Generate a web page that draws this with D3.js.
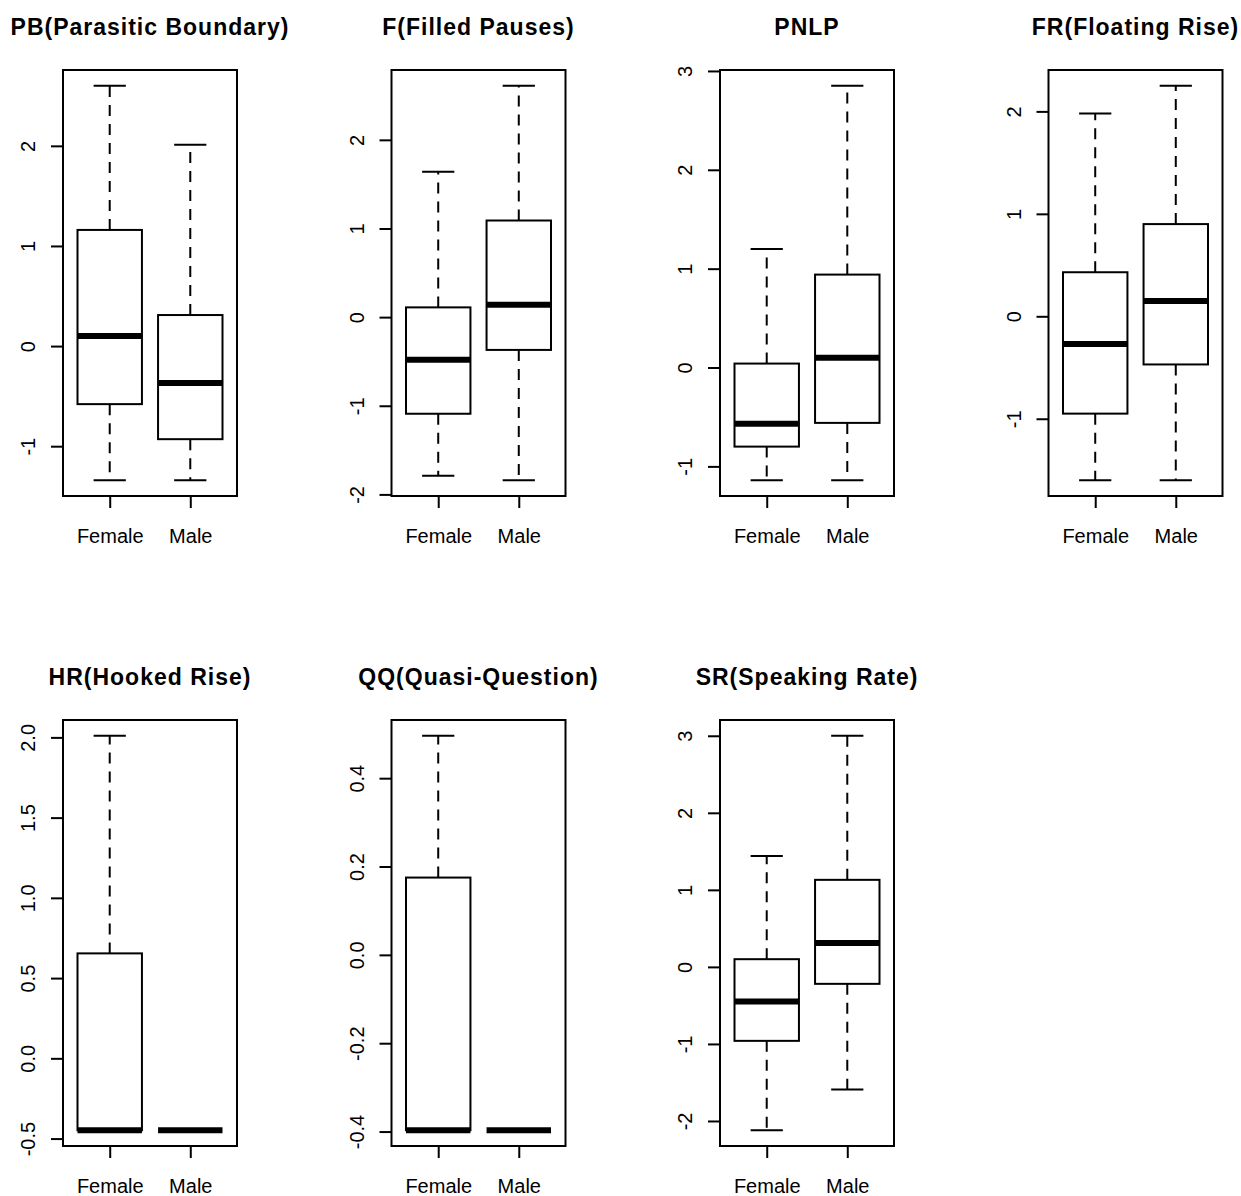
<!DOCTYPE html>
<html>
<head>
<meta charset="utf-8">
<script src="https://cdn.jsdelivr.net/npm/d3@7"></script>
<style>
  html, body { margin: 0; padding: 0; background: #fff; }
  text { font-family: "Liberation Sans", Arial, sans-serif; fill: #000; }
</style>
</head>
<body>
<svg id="chart" width="1241" height="1196"></svg>
<script>
// ---------- data ----------
const panelTitles = [
  "PB(Parasitic Boundary)", "F(Filled Pauses)", "PNLP", "FR(Floating Rise)",
  "HR(Hooked Rise)", "QQ(Quasi-Question)", "SR(Speaking Rate)"
];
const groups = ["Female", "Male"];
// [lower whisker, Q1, median, Q3, upper whisker]
const femaleStats = [
  [-1.34, -0.58,  0.10,  1.16, 2.60],
  [-1.79, -1.09, -0.48,  0.11, 1.64],
  [-1.14, -0.80, -0.57,  0.04, 1.20],
  [-1.60, -0.95, -0.27,  0.43, 1.98],
  [-0.448, -0.448, -0.448, 0.654, 2.01],
  [-0.397, -0.397, -0.397, 0.175, 0.496],
  [-2.12, -0.96, -0.45,  0.10, 1.44]
];
const maleStats = [
  [-1.34, -0.93, -0.37,  0.31, 2.01],
  [-1.84, -0.37,  0.14,  1.09, 2.61],
  [-1.14, -0.56,  0.10,  0.94, 2.85],
  [-1.60, -0.47,  0.15,  0.90, 2.25],
  [-0.448, -0.448, -0.448, -0.448, -0.448],
  [-0.397, -0.397, -0.397, -0.397, -0.397],
  [-1.59, -0.22,  0.31,  1.13, 3.00]
];
const yTickValues = [
  [-1, 0, 1, 2],
  [-2, -1, 0, 1, 2],
  [-1, 0, 1, 2, 3],
  [-1, 0, 1, 2],
  [-0.5, 0.0, 0.5, 1.0, 1.5, 2.0],
  [-0.4, -0.2, 0.0, 0.2, 0.4],
  [-2, -1, 0, 1, 2, 3]
];
const yTickLabels = [
  ["-1", "0", "1", "2"],
  ["-2", "-1", "0", "1", "2"],
  ["-1", "0", "1", "2", "3"],
  ["-1", "0", "1", "2"],
  ["-0.5", "0.0", "0.5", "1.0", "1.5", "2.0"],
  ["-0.4", "-0.2", "0.0", "0.2", "0.4"],
  ["-2", "-1", "0", "1", "2", "3"]
];

// ---------- layout ----------
const colStep = 328.5, rowStep = 650;
const frameLeft = 63, frameTop = 70, frameW = 174, frameH = 426;
const boxHalf = 0.4, capHalf = 0.2;

const svg = d3.select("#chart");
svg.append("rect").attr("width", 1241).attr("height", 1196).attr("fill", "#fff");

panelTitles.forEach((title, i) => {
  const col = i % 4, row = Math.floor(i / 4);
  const g = svg.append("g")
    .attr("transform", `translate(${frameLeft + col * colStep},${frameTop + row * rowStep})`);

  const stats = [femaleStats[i], maleStats[i]];
  const lo = d3.min(stats, s => s[0]), hi = d3.max(stats, s => s[4]);
  const pad = (hi - lo) * 0.04;
  const y = d3.scaleLinear().domain([lo - pad, hi + pad]).range([frameH, 0]);
  const x = d3.scaleLinear().domain([0.42, 2.58]).range([0, frameW]);

  // title
  g.append("text")
    .attr("x", frameW / 2).attr("y", -35)
    .attr("text-anchor", "middle")
    .style("font-size", "23px").style("font-weight", "bold")
    .attr("letter-spacing", 1)
    .text(title);

  // y axis
  const yAxis = d3.axisLeft(y)
    .tickValues(yTickValues[i])
    .tickFormat((d, k) => yTickLabels[i][k])
    .tickSize(12).tickSizeOuter(0);
  const ya = g.append("g").call(yAxis);
  ya.select(".domain").remove();
  ya.selectAll(".tick line").attr("stroke", "#000").attr("stroke-width", 2);
  ya.selectAll(".tick text")
    .attr("transform", "rotate(-90)")
    .attr("x", 0).attr("y", -28).attr("dy", 0)
    .attr("text-anchor", "middle")
    .style("font-size", "20px")
    .style("font-family", "'Liberation Sans', Arial, sans-serif")
    .attr("fill", "#000");

  // x axis
  const xAxis = d3.axisBottom(x)
    .tickValues([1, 2])
    .tickFormat((d, k) => groups[k])
    .tickSize(12).tickSizeOuter(0);
  const xa = g.append("g").attr("transform", `translate(0,${frameH})`).call(xAxis);
  xa.select(".domain").remove();
  xa.selectAll(".tick line").attr("stroke", "#000").attr("stroke-width", 2);
  xa.selectAll(".tick text")
    .attr("y", 47).attr("dy", 0)
    .style("font-size", "20px")
    .style("font-family", "'Liberation Sans', Arial, sans-serif")
    .attr("fill", "#000");

  // boxes
  stats.forEach((s, k) => {
    const cx = k + 1;
    const [wLo, q1, med, q3, wHi] = s;
    const bg = g.append("g");
    // whiskers (dashed)
    bg.append("line")
      .attr("x1", x(cx)).attr("x2", x(cx))
      .attr("y1", y(q3)).attr("y2", y(wHi))
      .attr("stroke", "#000").attr("stroke-width", 2).attr("stroke-dasharray", "11,8");
    bg.append("line")
      .attr("x1", x(cx)).attr("x2", x(cx))
      .attr("y1", y(q1)).attr("y2", y(wLo))
      .attr("stroke", "#000").attr("stroke-width", 2).attr("stroke-dasharray", "11,8");
    // caps
    [wLo, wHi].forEach(v => {
      bg.append("line")
        .attr("x1", x(cx - capHalf)).attr("x2", x(cx + capHalf))
        .attr("y1", y(v)).attr("y2", y(v))
        .attr("stroke", "#000").attr("stroke-width", 2);
    });
    // box
    bg.append("rect")
      .attr("x", x(cx - boxHalf)).attr("width", x(cx + boxHalf) - x(cx - boxHalf))
      .attr("y", y(q3)).attr("height", y(q1) - y(q3))
      .attr("fill", "#fff").attr("stroke", "#000").attr("stroke-width", 2);
    // median
    bg.append("line")
      .attr("x1", x(cx - boxHalf)).attr("x2", x(cx + boxHalf))
      .attr("y1", y(med)).attr("y2", y(med))
      .attr("stroke", "#000").attr("stroke-width", 6);
  });

  // frame
  g.append("rect")
    .attr("x", 0).attr("y", 0).attr("width", frameW).attr("height", frameH)
    .attr("fill", "none").attr("stroke", "#000").attr("stroke-width", 2);
});
</script>
</body>
</html>
